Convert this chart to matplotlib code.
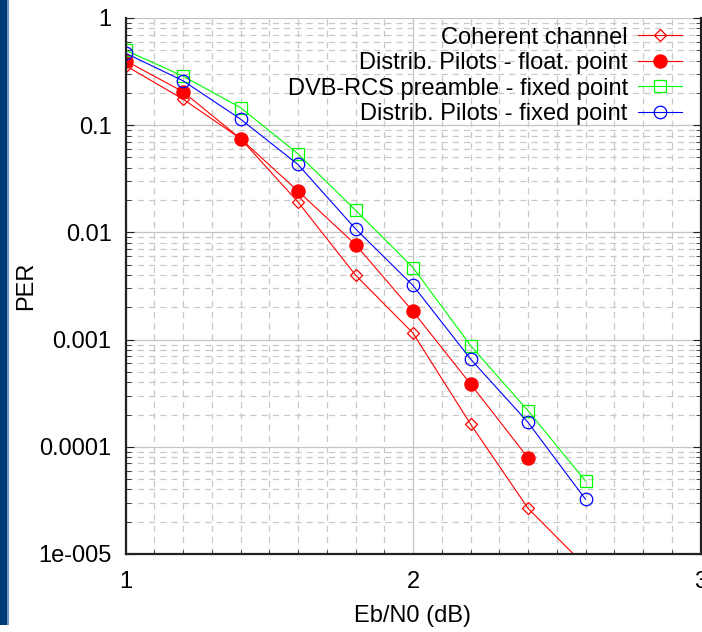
import numpy as np
import matplotlib
matplotlib.use('Agg')
import matplotlib.pyplot as plt
from matplotlib.patches import Rectangle
from matplotlib.ticker import LogLocator, FixedLocator, NullFormatter, MultipleLocator

plt.rcParams['font.family'] = ['Liberation Sans', 'DejaVu Sans']

# Data
ebn0 = [1.0, 1.2, 1.4, 1.6, 1.8, 2.0, 2.2, 2.4, 2.6]
per_coherent = [0.36, 0.175, 0.075, 0.0192, 0.0040, 0.00115, 0.000163, 2.67e-5, 7.7e-6]
per_float = [0.40, 0.205, 0.075, 0.0243, 0.0077, 0.00183, 0.000386, 7.9e-5]
per_dvb = [0.50, 0.287, 0.146, 0.054, 0.0161, 0.0047, 0.00088, 0.000217, 4.8e-5]
per_fixed = [0.47, 0.26, 0.114, 0.043, 0.0108, 0.0032, 0.00066, 0.000169, 3.24e-5]

y_ticks = [1, 0.1, 0.01, 0.001, 0.0001, 1e-5]
y_labels = ['1', '0.1', '0.01', '0.001', '0.0001', '1e-005']
x_ticks = [1, 2, 3]
x_labels = ['1', '2', '3']

fs = 17
fig = plt.figure(figsize=(7.02, 6.32), dpi=100)
ax = fig.add_axes([125.5 / 702, 1 - 554 / 632, 575 / 702, 536 / 632])

# dark strip on the left edge
fig.patches.append(Rectangle((0, 7 / 632), 7 / 702, 625 / 632, transform=fig.transFigure,
                             facecolor='#003b78', edgecolor='none'))
fig.patches.append(Rectangle((7 / 702, 7 / 632), 1.5 / 702, 625 / 632, transform=fig.transFigure,
                             facecolor='#6f95c4', edgecolor='none'))

lw = 0.8
mew = 0.9
ax.plot(ebn0, per_coherent, color='#ff0000', lw=lw, marker='D', ms=5.8, mfc='none', mew=mew,
        label='Coherent channel')
ax.plot(ebn0[:len(per_float)], per_float, color='#ff0000', lw=lw, marker='o', ms=9.4,
        mfc='#ff0000', mec='#ff0000', label='Distrib. Pilots - float. point')
ax.plot(ebn0, per_dvb, color='#00ff00', lw=lw, marker='s', ms=9.2, mfc='none', mew=mew,
        label='DVB-RCS preamble - fixed point')
ax.plot(ebn0, per_fixed, color='#0000ff', lw=lw, marker='o', ms=9.0, mfc='none', mew=mew,
        label='Distrib. Pilots - fixed point')

ax.set_yscale('log')
ax.set_xlim(1, 3)
ax.set_ylim(1e-5, 1)

ax.yaxis.set_major_locator(FixedLocator(y_ticks))
ax.set_yticklabels(y_labels)
ax.yaxis.set_minor_locator(LogLocator(base=10, subs=np.arange(2, 10), numticks=20))
ax.yaxis.set_minor_formatter(NullFormatter())
ax.xaxis.set_major_locator(FixedLocator(x_ticks))
ax.set_xticklabels(x_labels)
ax.xaxis.set_minor_locator(MultipleLocator(0.1))

ax.grid(which='major', color='#c4c4c4', lw=0.9, ls='-')
ax.grid(which='minor', color='#c8c8c8', lw=0.9, ls=(0, (5, 4)))
ax.set_axisbelow(True)

ax.tick_params(which='both', direction='in', left=True, right=True, bottom=True, top=False,
               labelsize=fs, colors='#222222', labelcolor='black')
ax.tick_params(axis='x', which='major', length=0, pad=12)
ax.tick_params(axis='x', which='minor', length=3)
ax.tick_params(axis='y', which='major', length=6, pad=10)
ax.tick_params(axis='y', which='minor', length=3.5)

for s in ['left', 'bottom', 'right']:
    ax.spines[s].set_color('#222222')
    ax.spines[s].set_linewidth(1.6)
ax.spines['top'].set_visible(False)

ax.set_xlabel('Eb/N0 (dB)', fontsize=fs, labelpad=9)
ax.set_ylabel('PER', fontsize=fs, labelpad=1)

leg = ax.legend(loc='upper right', bbox_to_anchor=(0.968, 0.984), frameon=False,
                markerfirst=False, fontsize=fs, handlelength=1.85, handletextpad=0.45,
                labelspacing=0.15, borderpad=0, borderaxespad=0, numpoints=1)

fig.savefig('out.png', dpi=100)
